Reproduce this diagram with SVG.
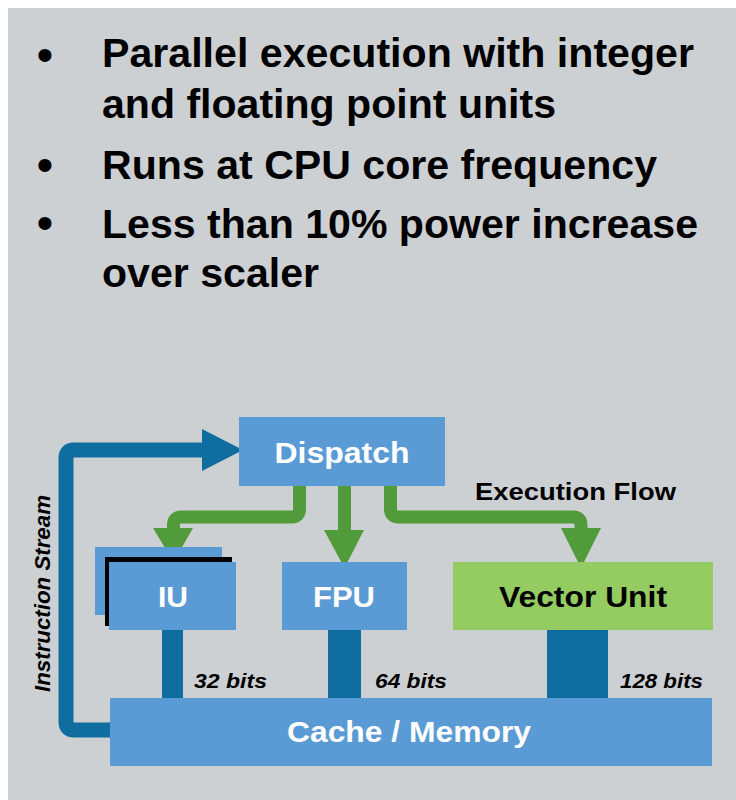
<svg xmlns="http://www.w3.org/2000/svg" width="736" height="800" viewBox="0 0 736 800">
<style>
.bul{font-family:"Liberation Sans",Arial,sans-serif;font-weight:bold;font-size:40px;fill:#000}
.dot{font-family:"Liberation Sans",Arial,sans-serif;font-size:48px;fill:#000;text-anchor:middle}
.box{fill:#5b9bd5}
.wt{font-family:"Liberation Sans",Arial,sans-serif;font-weight:bold;font-size:30px;fill:#fff;text-anchor:middle}
.bk{font-family:"Liberation Sans",Arial,sans-serif;font-weight:bold;font-size:30px;fill:#000;text-anchor:middle}
.bits{font-family:"Liberation Sans",Arial,sans-serif;font-weight:bold;font-style:italic;font-size:21px;fill:#000}
.bus{fill:#0f6e9f}
.green{fill:none;stroke:#519b3b;stroke-width:13}
.garr{fill:#519b3b}
</style>
<rect x="0" y="0" width="736" height="800" fill="#ffffff"/>
<rect x="8" y="8" width="728" height="792" fill="#cdd0d3"/>

<g id="bullets">
<text class="dot" x="45" y="71">•</text>
<text class="bul" x="102" y="67" textLength="592" lengthAdjust="spacingAndGlyphs">Parallel execution with integer</text>
<text class="bul" x="102" y="118" textLength="454" lengthAdjust="spacingAndGlyphs">and floating point units</text>
<text class="dot" x="45" y="181">•</text>
<text class="bul" x="102" y="179" textLength="555" lengthAdjust="spacingAndGlyphs">Runs at CPU core frequency</text>
<text class="dot" x="45" y="239">•</text>
<text class="bul" x="102" y="238" textLength="596" lengthAdjust="spacingAndGlyphs">Less than 10% power increase</text>
<text class="bul" x="102" y="287" textLength="217" lengthAdjust="spacingAndGlyphs">over scaler</text>
</g>

<g id="connectors">
<path d="M110 730 H74 Q66 730 66 722 V458 Q66 450 74 450 H205" fill="none" stroke="#0f6e9f" stroke-width="15"/>
<polygon points="202,429 243,450 202,471" fill="#0f6e9f"/>
<path class="green" d="M299.5 486 V509 Q299.5 517 291.5 517 H181.5 Q173.5 517 173.5 525 V532"/>
<polygon class="garr" points="153,528 193,528 173.5,562"/>
<path class="green" d="M344.5 486 V532"/>
<polygon class="garr" points="324,530 364,530 344.5,568"/>
<path class="green" d="M390.5 486 V509 Q390.5 517 398.5 517 H573 Q581 517 581 525 V532"/>
<polygon class="garr" points="561,528 601,528 581,568"/>
<rect class="bus" x="162" y="630" width="21" height="68"/>
<rect class="bus" x="328" y="630" width="33" height="68"/>
<rect class="bus" x="547" y="630" width="61" height="68"/>
<text class="bits" x="194" y="688" textLength="73" lengthAdjust="spacingAndGlyphs">32 bits</text>
<text class="bits" x="375" y="688" textLength="72" lengthAdjust="spacingAndGlyphs">64 bits</text>
<text class="bits" x="620" y="688" textLength="83" lengthAdjust="spacingAndGlyphs">128 bits</text>
<text x="50" y="692" transform="rotate(-90 50 692)" font-family="Liberation Sans, Arial, sans-serif" font-weight="bold" font-style="italic" font-size="22" fill="#000" textLength="197" lengthAdjust="spacingAndGlyphs">Instruction Stream</text>
<text x="475" y="500" font-family="Liberation Sans, Arial, sans-serif" font-weight="bold" font-size="24" fill="#000" textLength="201" lengthAdjust="spacingAndGlyphs">Execution Flow</text>
</g>

<g id="dispatch">
<rect class="box" x="239" y="417" width="206" height="69"/>
<text class="wt" x="342" y="463" textLength="135" lengthAdjust="spacingAndGlyphs">Dispatch</text>
</g>

<g id="iu">
<rect class="box" x="95" y="547" width="127" height="68"/>
<rect x="105" y="557" width="127" height="69" fill="#000"/>
<rect class="box" x="109" y="562" width="127" height="68"/>
<text class="wt" x="173" y="607">IU</text>
</g>

<g id="fpu">
<rect class="box" x="282" y="562" width="125" height="68"/>
<text class="wt" x="344" y="607" textLength="62" lengthAdjust="spacingAndGlyphs">FPU</text>
</g>

<g id="vector">
<rect x="453" y="562" width="260" height="68" fill="#94cc62"/>
<text class="bk" x="583" y="607" textLength="168" lengthAdjust="spacingAndGlyphs">Vector Unit</text>
</g>

<g id="cache">
<rect class="box" x="110" y="698" width="602" height="68"/>
<text class="wt" x="409" y="742" textLength="244" lengthAdjust="spacingAndGlyphs">Cache / Memory</text>
</g>
</svg>
